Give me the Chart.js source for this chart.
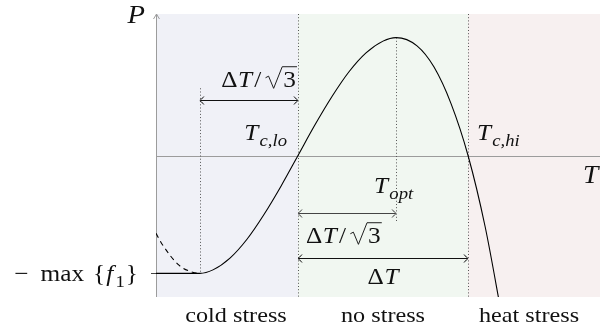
<!DOCTYPE html>
<html>
<head>
<meta charset="utf-8">
<script src="https://cdn.jsdelivr.net/npm/chart.js@4.4.1/dist/chart.umd.min.js"></script>
<style>
  html, body { margin: 0; padding: 0; background: #fff; }
  canvas { display: block; }
</style>
</head>
<body>
<canvas id="perf" width="600" height="331"></canvas>
<script>
// Temperature is measured in units of ΔT from T_c,lo; performance P is normalised to its peak.
const T_LO = 0;
const T_HI = 1;
const T_OPT = 0.577;
const T_MIN = -0.577;
const T_RANGE = [-0.835, 1.776];
const P_RANGE = [-1.2, 1.2];

// Performance curve (solid): floor at -max{f1} below T_min, then the thermal response.
const perfT = [-0.835, -0.577, -0.5, -0.4, -0.3, -0.2, -0.1, 0, 0.1, 0.2, 0.3, 0.4, 0.5, 0.577, 0.7, 0.8, 0.9, 1.0, 1.1, 1.2];
const perfP = [-1, -1, -0.97, -0.87, -0.71, -0.50, -0.26, 0, 0.26, 0.50, 0.71, 0.87, 0.97, 1, 0.93, 0.75, 0.44, 0, -0.60, -1.37];

// Unbounded response below T_min (dashed).
const coldT = [-0.835, -0.8, -0.7, -0.62, -0.577];
const coldP = [-0.66, -0.75, -0.93, -0.99, -1];

// Stress bands along the temperature axis.
const bandNames = ['cold stress', 'no stress', 'heat stress'];
const bandColors = ['#f0f1f7', '#f1f7f1', '#f7f0f0'];

const SERIF = '"Liberation Serif", "DejaVu Serif", serif';
const SX = 1.1;           // horizontal stretch of all lettering
const FS = 22;            // base font size
const MS = 23;            // math label size

function segFont(s, size) {
  const sz = s.sub ? Math.round(size * 0.72) : size;
  return (s.it ? 'italic ' : '') + sz + 'px ' + SERIF;
}

function segWidth(ctx, s, size) {
  if (s.sqrt) {
    ctx.font = segFont({}, size);
    return size * 0.78 + ctx.measureText(s.sqrt).width + 1;
  }
  ctx.font = segFont(s, size);
  return ctx.measureText(s.t).width + (s.kern || 0) + (s.pre || 0);
}

// Draws a run of roman/italic/subscript pieces on one baseline.
function drawMath(ctx, segs, x, y, align, size, color) {
  size = size || FS;
  const widths = segs.map(s => segWidth(ctx, s, size));
  const total = widths.reduce((a, b) => a + b, 0);
  ctx.save();
  ctx.translate(x, y);
  ctx.scale(SX, 1);
  ctx.fillStyle = color || '#111';
  ctx.strokeStyle = color || '#111';
  ctx.textBaseline = 'alphabetic';
  ctx.textAlign = 'left';
  let cx = align === 'right' ? -total : align === 'center' ? -total / 2 : 0;
  segs.forEach((s, i) => {
    if (s.sqrt) {
      const r = size;
      ctx.lineWidth = 0.9;
      ctx.beginPath();
      ctx.moveTo(cx + 0.08 * r, -0.38 * r);
      ctx.lineTo(cx + 0.20 * r, -0.45 * r);
      ctx.lineTo(cx + 0.40 * r, 0.08 * r);
      ctx.lineTo(cx + 0.74 * r, -0.86 * r);
      ctx.lineTo(cx + widths[i], -0.86 * r);
      ctx.stroke();
      ctx.font = segFont({}, size);
      ctx.fillText(s.sqrt, cx + 0.78 * r, 0);
    } else {
      ctx.font = segFont(s, size);
      ctx.fillText(s.t, cx + (s.pre || 0), s.sub ? size * 0.24 : 0);
    }
    cx += widths[i];
  });
  ctx.restore();
}

function arrowHead(ctx, x, y, dir) {
  ctx.beginPath();
  ctx.moveTo(x - dir * 4, y - 4);
  ctx.quadraticCurveTo(x - dir * 1.5, y - 1, x, y);
  ctx.quadraticCurveTo(x - dir * 1.5, y + 1, x - dir * 4, y + 4);
  ctx.stroke();
}

function dimArrow(ctx, x1, x2, y, color) {
  ctx.save();
  ctx.strokeStyle = color;
  ctx.lineWidth = 1;
  ctx.beginPath();
  ctx.moveTo(x1 + 0.5, y);
  ctx.lineTo(x2 - 0.5, y);
  ctx.stroke();
  arrowHead(ctx, x1, y, -1);
  arrowHead(ctx, x2, y, 1);
  ctx.restore();
}

function dotted(ctx, x, y1, y2) {
  ctx.save();
  ctx.strokeStyle = '#555';
  ctx.lineWidth = 1;
  ctx.setLineDash([1, 2.2]);
  ctx.beginPath();
  ctx.moveTo(Math.round(x) + 0.5, y1);
  ctx.lineTo(Math.round(x) + 0.5, y2);
  ctx.stroke();
  ctx.restore();
}

const diagram = {
  id: 'diagram',
  beforeDatasetsDraw(chart) {
    const { ctx, chartArea: a, scales: { x, y } } = chart;
    const edges = [a.left, x.getPixelForValue(T_LO), x.getPixelForValue(T_HI), a.right];
    ctx.save();
    bandColors.forEach((c, i) => {
      ctx.fillStyle = c;
      ctx.fillRect(edges[i], a.top, edges[i + 1] - edges[i], a.bottom - a.top);
    });

    // axes
    const y0 = Math.round(y.getPixelForValue(0)) + 0.5;
    const ax = Math.round(a.left) + 0.5;
    ctx.strokeStyle = '#9c9c9c';
    ctx.lineWidth = 1;
    ctx.beginPath();
    ctx.moveTo(a.left, y0);
    ctx.lineTo(a.right, y0);
    ctx.moveTo(ax, a.bottom);
    ctx.lineTo(ax, a.top);
    ctx.stroke();
    ctx.beginPath();
    ctx.moveTo(ax - 3, a.top + 5);
    ctx.quadraticCurveTo(ax - 0.8, a.top + 1.5, ax, a.top);
    ctx.quadraticCurveTo(ax + 0.8, a.top + 1.5, ax + 3, a.top + 5);
    ctx.stroke();

    // tick for -max{f1}
    const yf = Math.round(y.getPixelForValue(-1)) + 0.5;
    ctx.strokeStyle = '#444';
    ctx.beginPath();
    ctx.moveTo(a.left - 5, yf);
    ctx.lineTo(a.left, yf);
    ctx.stroke();
    ctx.restore();

    // guide lines
    dotted(ctx, x.getPixelForValue(T_MIN), y.getPixelForValue(0.57), y.getPixelForValue(-1));
    dotted(ctx, x.getPixelForValue(T_LO), a.top, a.bottom);
    dotted(ctx, x.getPixelForValue(T_OPT), y.getPixelForValue(1), y.getPixelForValue(-0.56));
    dotted(ctx, x.getPixelForValue(T_HI), a.top, a.bottom);
  },
  afterDatasetsDraw(chart) {
    const { ctx, chartArea: a, scales: { x, y } } = chart;
    const xLo = x.getPixelForValue(T_LO);
    const xHi = x.getPixelForValue(T_HI);
    const xOpt = x.getPixelForValue(T_OPT);
    const xMin = x.getPixelForValue(T_MIN);

    const yUp = Math.round(y.getPixelForValue(0.47)) + 0.5;
    const yMid = Math.round(y.getPixelForValue(-0.49)) + 0.5;
    const yLow = Math.round(y.getPixelForValue(-0.87)) + 0.5;
    dimArrow(ctx, xMin, xLo, yUp, '#111');
    dimArrow(ctx, xLo, xOpt, yMid, '#444');
    dimArrow(ctx, xLo, xHi, yLow, '#111');

    const dT = [{ t: 'Δ', kern: 0.5 }, { t: 'T', it: true, kern: 1 }, { t: '/', pre: 1, kern: 2 }, { sqrt: '3' }];
    drawMath(ctx, dT, xLo - 1, yUp - 14, 'right', MS);
    drawMath(ctx, dT, xLo + 8, yMid + 29, 'left', MS);
    drawMath(ctx, [{ t: 'Δ', kern: 0.5 }, { t: 'T', it: true }], (xLo + xHi) / 2, yLow + 25, 'center', MS);

    drawMath(ctx, [{ t: 'T', it: true, kern: 1 }, { t: 'c,lo', it: true, sub: true }], xLo - 11, 140, 'right', MS);
    drawMath(ctx, [{ t: 'T', it: true, kern: 1 }, { t: 'c,hi', it: true, sub: true }], xHi + 9, 140, 'left', MS);
    drawMath(ctx, [{ t: 'T', it: true, kern: 1 }, { t: 'opt', it: true, sub: true }], xOpt - 22, 193, 'left', MS);

    drawMath(ctx, [{ t: 'P', it: true }], a.left - 11, 23, 'right', 26);
    drawMath(ctx, [{ t: 'T', it: true }], a.right - 17, y.getPixelForValue(0) + 27, 'left', 25);

    drawMath(ctx, [{ t: '−', kern: 11 }, { t: 'max', kern: 8 }, { t: '{', kern: 1 }, { t: 'f', it: true, kern: 2 }, { t: '1', sub: true, kern: 1 }, { t: '}' }],
      a.left - 18, y.getPixelForValue(-1) + 8, 'right', MS);

    const lab = [(a.left + xLo) / 2 + 9, (xLo + xHi) / 2, (xHi + a.right) / 2 - 5];
    bandNames.forEach((n, i) => drawMath(ctx, [{ t: n }], lab[i], 322, 'center'));
  }
};

new Chart(document.getElementById('perf'), {
  type: 'line',
  data: {
    datasets: [
      {
        data: perfT.map((t, i) => ({ x: t, y: perfP[i] })),
        borderColor: '#000',
        borderWidth: 1.1,
        pointRadius: 0,
        fill: false,
        cubicInterpolationMode: 'monotone'
      },
      {
        data: coldT.map((t, i) => ({ x: t, y: coldP[i] })),
        borderColor: '#000',
        borderWidth: 1.1,
        borderDash: [5, 4],
        pointRadius: 0,
        fill: false,
        cubicInterpolationMode: 'monotone'
      }
    ]
  },
  options: {
    responsive: false,
    animation: false,
    devicePixelRatio: 1,
    layout: { padding: { left: 156, right: 0, top: 14, bottom: 34 } },
    plugins: { legend: { display: false }, tooltip: { enabled: false } },
    scales: {
      x: { type: 'linear', min: T_RANGE[0], max: T_RANGE[1], display: false },
      y: { type: 'linear', min: P_RANGE[0], max: P_RANGE[1], display: false }
    }
  },
  plugins: [diagram]
});
</script>
</body>
</html>
